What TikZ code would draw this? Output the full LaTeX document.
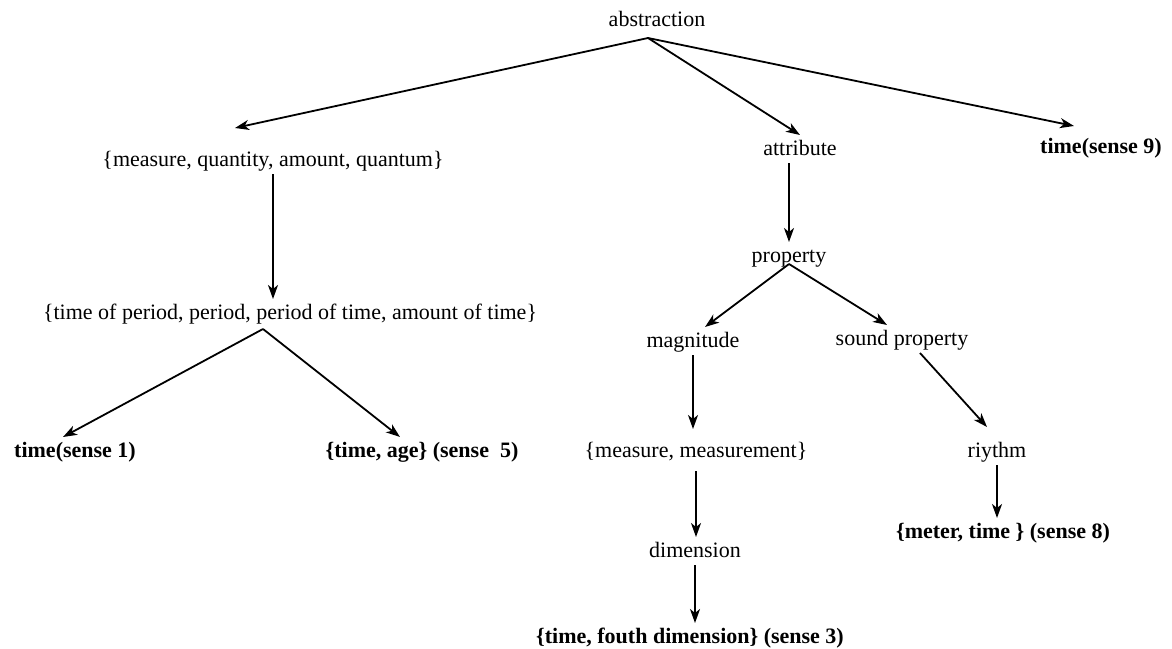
\documentclass[tikz,border=0pt]{standalone}
\usepackage{fontspec}
\setmainfont{Liberation Serif}
\usetikzlibrary{arrows.meta, calc}

\tikzset{
  word/.style={inner sep=0pt, outer sep=2pt, text height=8pt, text depth=2pt, font=\fontsize{11}{13}\selectfont},
  sense/.style={word, font=\fontsize{11}{13}\selectfont\bfseries},
  link/.style={line width=0.9pt, -{Stealth[length=7pt,width=5pt,inset=2pt]}}
}

\begin{document}
\begin{tikzpicture}[x=0.5pt, y=-0.5pt]
\useasboundingbox (0,0) rectangle (1172,648);
\node[word] (abs) at (657,20) {abstraction};
\node[word] (meas) at (273,160) {\{measure, quantity, amount, quantum\}};
\node[word] (attr) at (800,149) {attribute};
\node[sense] (t9) at (1101,147) {time(sense 9)};
\node[word] (prop) at (789,256) {property};
\node[word] (tper) at (290,313) {\{time of period, period, period of time, amount of time\}};
\node[word] (mag) at (693,341) {magnitude};
\node[word] (snd) at (902,339) {sound property};
\node[sense] (t1) at (75,451) {time(sense 1)};
\node[sense] (tage) at (422,451) {\{time, age\} (sense~~5)};
\node[word] (mmt) at (696,451) {\{measure, measurement\}};
\node[word] (riy) at (997,451) {riythm};
\node[sense] (t8) at (1003,532) {\{meter, time \} (sense 8)};
\node[word] (dim) at (695,551) {dimension};
\node[sense] (t3) at (690,637) {\{time, fouth dimension\} (sense 3)};

\coordinate (apex) at ($(abs.south)+(-9,4)$);
\coordinate (tsplit) at ($(tper.south)+(-27,2)$);
\coordinate (psplit) at ($(prop.south)+(0,-6)$);

\draw[link] (apex) -- ($(meas.north)+(-38,-18)$);
\draw[link] (apex) -- (attr.north);
\draw[link] (apex) -- ($(t9.north)+(-27,-7)$);
\draw[link] (meas.south) -- (meas.south |- tper.north);
\draw[link] (prop.north |- attr.south) -- (prop.north);
\draw[link] (tsplit) -- ($(t1.north)+(-12,0)$);
\draw[link] (tsplit) -- ($(tage.north)+(-22,0)$);
\draw[link] (psplit) -- ($(mag.north)+(12,0)$);
\draw[link] (psplit) -- ($(snd.north)+(-15,0)$);
\draw[link] ($(snd.south)+(18,0)$) -- ($(riy.north)+(-10,-10)$);
\draw[link, shorten >=4pt] (mag.south) -- (mag.south |- mmt.north);
\draw[link, shorten <=3pt] (mmt.south) -- (mmt.south |- dim.north);
\draw[link] (dim.south) -- (dim.south |- t3.north);
\draw[link] (riy.south) -- (riy.south |- t8.north);
\end{tikzpicture}
\end{document}
